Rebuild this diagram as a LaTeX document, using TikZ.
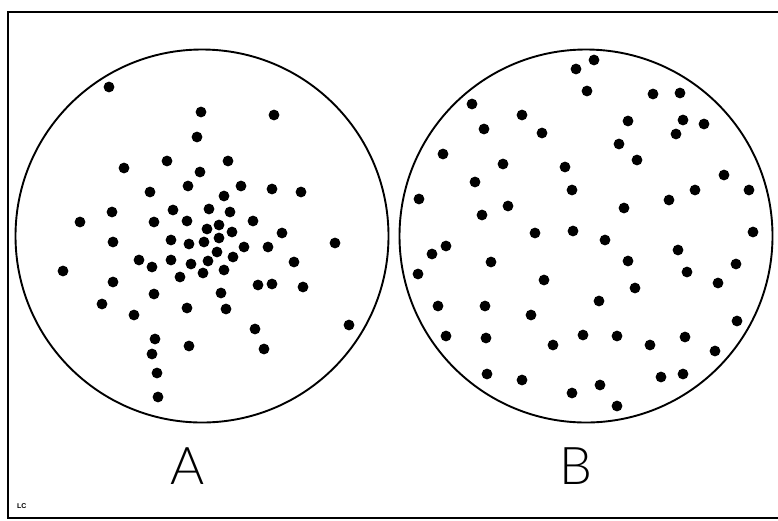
\documentclass[tikz,border=0pt]{standalone}
\usepackage{fontspec}
\IfFontExistsTF{Lato}{\newfontfamily\lettfont{Lato Light}}{\newfontfamily\lettfont{Liberation Sans}}
\newfontfamily\tagfont{Liberation Sans}
\begin{document}
\begin{tikzpicture}[x=1pt,y=-1pt,
  ring/.style={draw=black,line width=1.9pt},
  frameline/.style={draw=black,line width=2.4pt},
  letter/.style={font=\lettfont\fontsize{52}{52}\selectfont,anchor=base,inner sep=0pt},
  tag/.style={font=\tagfont\bfseries\fontsize{7}{7}\selectfont,anchor=base west,inner sep=0pt}]
\useasboundingbox (0,0) rectangle (778,520);
\draw[frameline] (778,12) -- (8,12) -- (8,518) -- (778,518);
\draw[ring] (202,236) circle[radius=186.5pt];
\draw[ring] (586,236) circle[radius=186.5pt];
% dots of A
\foreach \x/\y in {109/87,201/112,274/115,197/137,167/161,124/168,228/161,200/172,
  188/186,241/186,272/189,301/192,150/192,224/196,173/210,209/209,230/212,112/212,
  80/222,154/222,187/221,253/221,207/229,219/225,232/232,282/233,335/243,113/242,
  171/240,189/244,204/242,219/238,244/247,268/247,217/252,139/260,171/260,191/264,
  208/261,233/257,63/271,152/267,203/273,224/270,180/277,294/262,113/282,258/285,
  272/284,303/287,154/294,221/293,102/304,187/308,226/309,134/315,349/325,255/329,
  155/339,189/346,264/349,152/354,157/373,158/397}
  \fill (\x,\y) circle[radius=5.4pt];
% dots of B
\foreach \x/\y in {594/60,576/69,587/91,653/94,680/93,472/104,522/115,628/121,683/120,
  704/124,484/129,542/133,676/134,619/144,443/154,637/160,503/164,565/167,724/175,
  475/182,572/190,695/190,749/190,419/199,669/200,508/206,624/208,482/215,535/233,
  573/231,753/232,605/240,446/246,432/254,678/250,491/262,628/261,736/264,418/274,
  544/280,687/272,718/283,635/288,599/301,438/306,485/306,531/315,737/321,446/336,
  486/338,583/335,617/336,553/345,650/345,685/337,715/351,487/374,522/380,661/377,
  683/374,572/393,600/385,617/406}
  \fill (\x,\y) circle[radius=5.4pt];
\node[letter] (labA) at (188,484) {A};
\node[letter] (labB) at (576,484) {B};
\node[tag] (lc) at (17,508) {LC};
\end{tikzpicture}
\end{document}
